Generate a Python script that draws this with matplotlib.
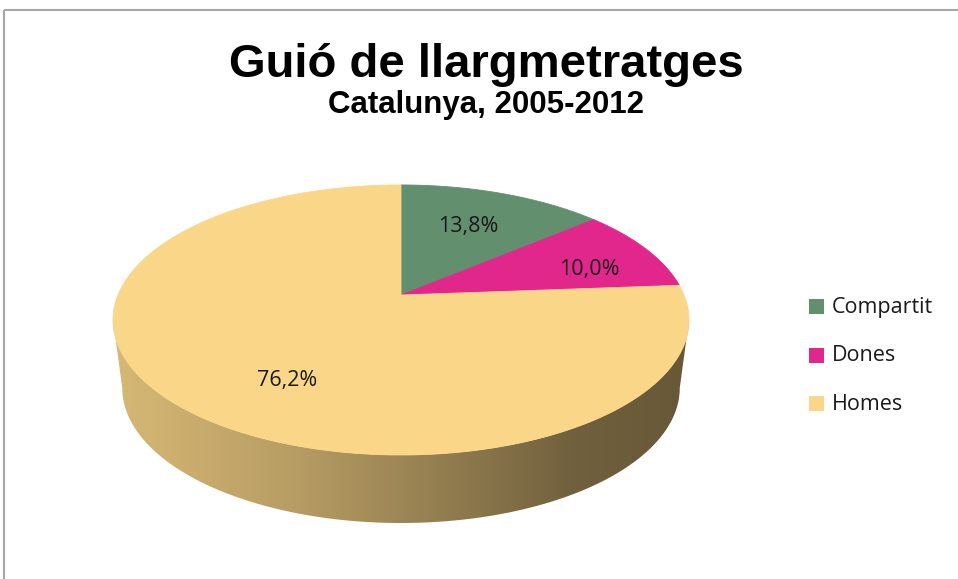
import numpy as np
import matplotlib.pyplot as plt
from matplotlib.patches import Polygon, Rectangle
from matplotlib.colors import to_rgb

# data
labels = ['Compartit', 'Dones', 'Homes']
values = [13.8, 10.0, 76.2]
pct_text = ['13,8%', '10,0%', '76,2%']
colors = ['#62906f', '#e2278c', '#fad688']
title = 'Guió de llargmetratges'
subtitle = 'Catalunya, 2005-2012'

# 3d pie layout (pixel space)
CX, CY = 401, 295
RX, RY = 283, 130.4
K = 0.185          # perspective
DEPTH = 68
SHRINK = 0.968
LABEL_R = 0.66
label_nudge = [(-3, 2), (23, 6), (26, 16)]


def top_pt(theta, r=1.0):
    # theta clockwise from 12 o'clock
    u = r * np.sin(theta)
    v = r * np.cos(theta)
    w = 1.0 / (1.0 + K * v)
    return CX + RX * u * w, CY - RY * v * w


def bottom_pt(theta):
    x, y = top_pt(theta)
    return CX + (x - CX) * SHRINK, y + DEPTH


fig = plt.figure(figsize=(9.58, 5.79), dpi=100)
ax = fig.add_axes([0, 0, 1, 1])
ax.axis('off')

# chart frame
ax.add_patch(Rectangle((4, 10), 1200, 1200, fill=False, edgecolor='#a6a6a6', lw=1.5))

fracs = np.array(values) / np.sum(values)
bounds = np.concatenate([[0], np.cumsum(fracs)]) * 2 * np.pi

# side walls (front part only)
th_r = np.arccos(-K)
th_l = 2 * np.pi - th_r
xl = top_pt(th_l)[0]
xr = top_pt(th_r)[0]
shade = np.interp(np.linspace(0, 1, 300), [0, 0.3, 0.55, 0.8, 1], [0.86, 0.74, 0.6, 0.45, 0.41])
for i in range(len(values)):
    a0 = max(bounds[i], th_r)
    a1 = min(bounds[i + 1], th_l)
    if a1 <= a0:
        continue
    ts = np.linspace(a0, a1, 200)
    top = np.array([top_pt(t) for t in ts])
    bot = np.array([bottom_pt(t) for t in ts[::-1]])
    side = Polygon(np.vstack([top, bot]), closed=True, facecolor='none', edgecolor='none')
    ax.add_patch(side)
    base = np.array(to_rgb(colors[i]))
    grad = (shade[:, None] * base[None, :])[None, :, :]
    im = ax.imshow(grad, extent=(xl, xr, 600, 150), aspect='auto', interpolation='bilinear', zorder=1)
    im.set_clip_path(side)

# top face
for i in range(len(values)):
    ts = np.linspace(bounds[i], bounds[i + 1], 200)
    pts = np.array([(CX, CY)] + [top_pt(t) for t in ts])
    ax.add_patch(Polygon(pts, closed=True, facecolor=colors[i], edgecolor=colors[i], lw=0.6, zorder=2))

# data labels
for i in range(len(values)):
    mid = (bounds[i] + bounds[i + 1]) / 2
    x, y = top_pt(mid, LABEL_R)
    ax.text(x + label_nudge[i][0], y + label_nudge[i][1], pct_text[i], fontsize=15.5,
            family='Open Sans', color='#1a1a1a', ha='center', va='center', zorder=3)

# legend
for i, lab in enumerate(labels):
    ly = 307 + i * 48.5
    ax.add_patch(Rectangle((809, ly - 8), 15, 15, facecolor=colors[i], edgecolor='none'))
    ax.text(832, ly, lab, fontsize=15.5, family='Open Sans', color='#1a1a1a', ha='left', va='center')

ax.text(486, 77, title, fontsize=34, fontweight='bold', family='Liberation Sans',
        ha='center', va='baseline')
ax.text(486, 113, subtitle, fontsize=22.5, fontweight='bold', family='Liberation Sans',
        ha='center', va='baseline')

ax.set_xlim(0, 958)
ax.set_ylim(579, 0)
fig.savefig('out.png', dpi=100, facecolor='white')
